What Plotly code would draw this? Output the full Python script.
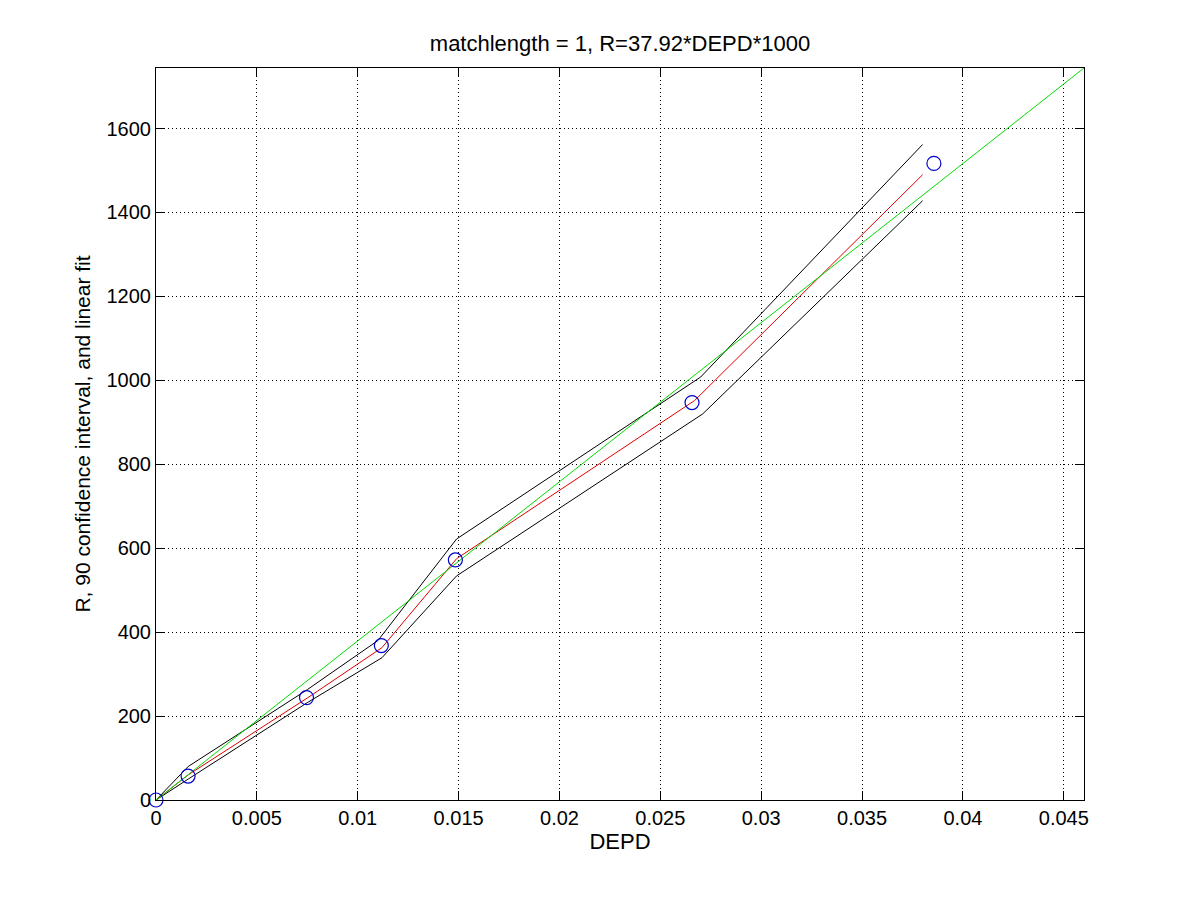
import plotly.graph_objects as go

# Data
pts_x = [0.0, 0.00159, 0.00746, 0.01117, 0.01484, 0.02657, 0.03856]
pts_y = [0, 57, 244, 368, 572, 947, 1517]

red_x = [0.0, 0.0016, 0.0075, 0.0112, 0.0149, 0.0267, 0.0380]
red_y = [0, 60, 243, 363, 575, 952, 1490]

up_x = [0.0, 0.0016, 0.0075, 0.0110, 0.0149, 0.0270, 0.0380]
up_y = [0, 80, 263, 380, 622, 1008, 1562]

lo_x = [0.0, 0.0016, 0.0075, 0.0112, 0.0149, 0.0271, 0.0380]
lo_y = [0, 50, 232, 339, 534, 920, 1428]

fit_slope = 37.92 * 1000
fit_x = [0.0, 0.046]
fit_y = [fit_slope * v for v in fit_x]

x_ticks = [0, 0.005, 0.01, 0.015, 0.02, 0.025, 0.03, 0.035, 0.04, 0.045]
x_labels = ["0", "0.005", "0.01", "0.015", "0.02", "0.025", "0.03", "0.035", "0.04", "0.045"]
y_ticks = [0, 200, 400, 600, 800, 1000, 1200, 1400, 1600]

fig = go.Figure()
fig.add_trace(go.Scatter(x=up_x, y=up_y, mode="lines", line=dict(color="black", width=1)))
fig.add_trace(go.Scatter(x=lo_x, y=lo_y, mode="lines", line=dict(color="black", width=1)))
fig.add_trace(go.Scatter(x=red_x, y=red_y, mode="lines", line=dict(color="#e00000", width=1)))
fig.add_trace(go.Scatter(x=fit_x, y=fit_y, mode="lines", line=dict(color="#00dd00", width=1)))
fig.add_trace(go.Scatter(x=pts_x, y=pts_y, mode="markers",
                         marker=dict(symbol="circle-open", size=14, color="#0000cc",
                                     line=dict(width=1.2, color="#0000cc")),
                         cliponaxis=False))

font = "Liberation Sans, Arial, sans-serif"
axis_common = dict(
    showline=True, linecolor="black", linewidth=1, mirror="ticks",
    ticks="inside", ticklen=9, tickcolor="black",
    showgrid=True, gridcolor="black", griddash="1px,3px", gridwidth=1,
    zeroline=False, tickfont=dict(family=font, size=20, color="black"),
)
fig.update_xaxes(range=[0, 0.046], tickvals=x_ticks, ticktext=x_labels,
                 title=dict(text="DEPD", font=dict(family=font, size=22, color="black"), standoff=4),
                 **axis_common)
fig.update_yaxes(range=[0, 1744.3], tickvals=y_ticks,
                 title=dict(text="R, 90 confidence interval, and linear fit",
                            font=dict(family=font, size=21, color="black"), standoff=10),
                 **axis_common)
fig.update_layout(
    width=1200, height=900,
    margin=dict(l=148, r=124, t=60, b=108),
    paper_bgcolor="white", plot_bgcolor="white",
    showlegend=False,
    title=dict(text="matchlength = 1, R=37.92*DEPD*1000", x=0.5, xanchor="center",
               xref="paper", y=1 - 35 / 900, yanchor="middle",
               font=dict(family=font, size=22, color="black")),
)
fig.write_html("out.html")
